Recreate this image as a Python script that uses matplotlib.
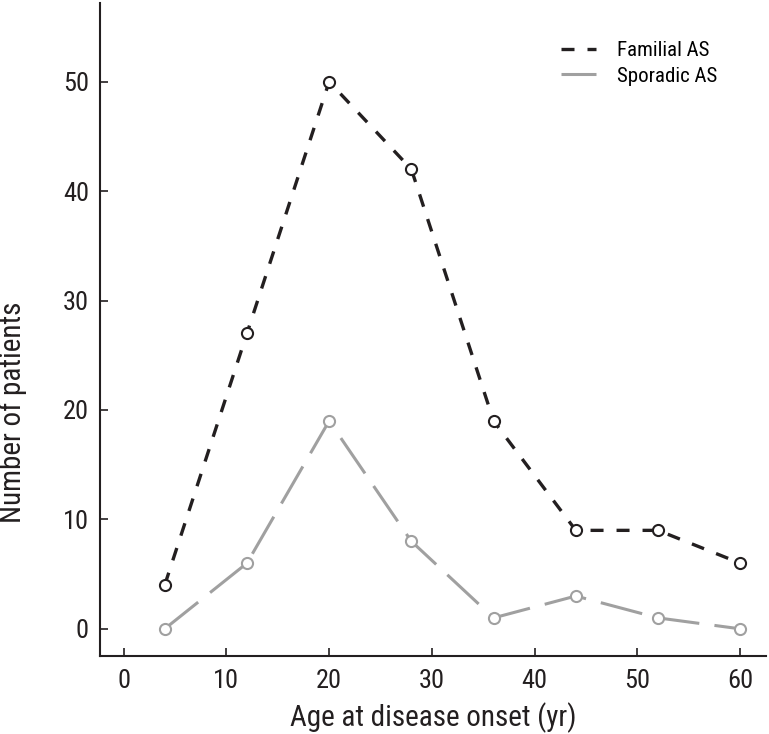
import matplotlib
matplotlib.use("Agg")
import matplotlib.pyplot as plt

age = [4, 12, 20, 28, 36, 44, 52, 60]
familial = [4, 27, 50, 42, 19, 9, 9, 6]
sporadic = [0, 6, 19, 8, 1, 3, 1, 0]
xticks = [0, 10, 20, 30, 40, 50, 60]
yticks = [0, 10, 20, 30, 40, 50]

plt.rcParams['font.family'] = ['Liberation Sans Narrow', 'Roboto Condensed', 'Liberation Sans', 'DejaVu Sans']

fig = plt.figure(figsize=(7.69, 7.34), dpi=100)
ax = fig.add_axes([0.130, 0.106, 0.866, 0.890])

ax.plot(age, familial, color='#231f20', lw=2.4, dashes=(3.9, 3.9),
		marker='o', ms=8, mfc='white', mec='#231f20', mew=1.5, label='Familial AS')
ax.plot(age, sporadic, color='#a0a0a0', lw=2.2, dashes=(14, 5),
		marker='o', ms=8, mfc='white', mec='#a0a0a0', mew=1.5, label='Sporadic AS')

ax.set_xlim(-2.3, 62.5)
ax.set_ylim(-2.5, 57.2)
ax.set_xticks(xticks)
ax.set_yticks(yticks)
ax.tick_params(direction='in', length=6, width=1.2, labelsize=19, colors='#231f20')
ax.tick_params(axis='x', pad=9)
ax.tick_params(axis='y', pad=8)
for s in ['top', 'right']:
	ax.spines[s].set_visible(False)
for s in ['left', 'bottom']:
	ax.spines[s].set_linewidth(1.5)
	ax.spines[s].set_color('#231f20')

ax.set_xlabel('Age at disease onset (yr)', fontsize=21, color='#231f20')
ax.set_ylabel('Number of patients', fontsize=21, color='#231f20')
ax.xaxis.set_label_coords(0.50, -0.070)
ax.yaxis.set_label_coords(-0.110, 0.374)

leg = ax.legend(loc='upper right', bbox_to_anchor=(0.955, 0.97), frameon=False, fontsize=15,
				handlelength=1.7, handletextpad=1.0, labelspacing=0.3)
for h in leg.get_lines():
	h.set_marker('')

fig.savefig('out.png', dpi=100)
